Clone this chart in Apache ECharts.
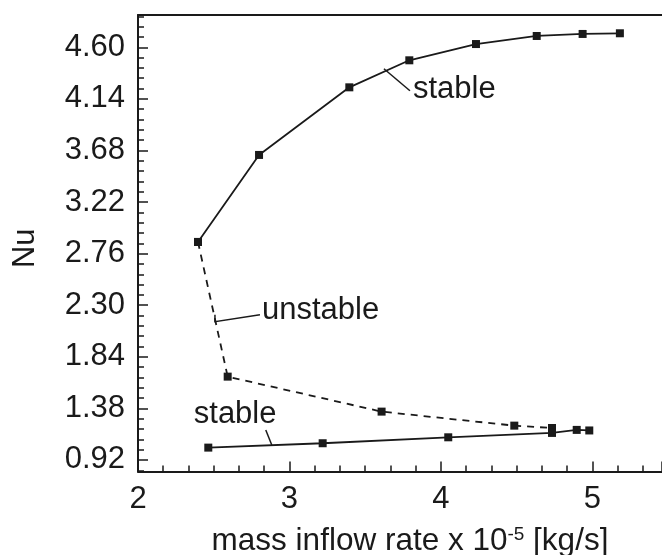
<!DOCTYPE html>
<html>
<head>
<meta charset="utf-8">
<script src="https://cdn.jsdelivr.net/npm/echarts@6/dist/echarts.min.js"></script>
<style>
html,body{margin:0;padding:0;background:#fff;}
#c{width:662px;height:555px;}
</style>
</head>
<body>
<div id="c"></div>
<script>
// ---- data ----
const upperStableX = [2.396, 2.799, 3.395, 3.791, 4.231, 4.632, 4.935, 5.181];
const upperStableY = [2.864, 3.640, 4.243, 4.484, 4.629, 4.701, 4.719, 4.725];
const unstableX = [2.396, 2.592, 3.608, 4.484, 4.733];
const unstableY = [2.864, 1.663, 1.351, 1.226, 1.205];
const lowerStableX = [2.464, 3.219, 4.048, 4.733, 4.896, 4.979];
const lowerStableY = [1.030, 1.069, 1.122, 1.161, 1.188, 1.183];
const yTickLabels = [0.92, 1.38, 1.84, 2.30, 2.76, 3.22, 3.68, 4.14, 4.60];
const xTickLabels = [2, 3, 4, 5];
const annotations = [
  {text: 'stable', at: [3.630, 4.382]},
  {text: 'unstable', at: [2.508, 2.153]},
  {text: 'stable', at: [2.883, 1.054]}
];

const FONT = 'Liberation Sans, Arial, sans-serif';
const INK = '#1a1a1a';
const X_MIN = 2, X_MAX = 5.459, Y_MIN = 0.817, Y_MAX = 4.888;

function zip(xs, ys){ return xs.map((x,i)=>[x, ys[i]]); }
// minor ticks: 5 subdivisions between labelled ticks
const yMinor = [];
const step = (yTickLabels[1]-yTickLabels[0])/5;
for (let v = yTickLabels[0]-step; v <= Y_MAX; v += step) { if (v >= Y_MIN) yMinor.push(+v.toFixed(4)); }

const chart = echarts.init(document.getElementById('c'), null, {renderer:'canvas'});
const lineBase = {type:'line', symbol:'rect', symbolSize:8, showSymbol:true, animation:false,
  itemStyle:{color:INK}, z:3};

chart.setOption({
  backgroundColor:'#fff',
  animation:false,
  grid:{left:138, top:15, right:0, bottom:83.5, containLabel:false, outerBoundsMode:'none'},
  xAxis:[{
    type:'value', min:X_MIN, max:X_MAX, interval:1, position:'bottom',
    axisLine:{show:true, onZero:false, lineStyle:{color:INK, width:2}},
    axisTick:{show:true, inside:true, length:10, lineStyle:{color:INK, width:1.5}},
    minorTick:{show:true, splitNumber:6, length:6, lineStyle:{color:INK, width:1.5}},
    splitLine:{show:false},
    axisLabel:{show:true, margin:12, color:INK, fontFamily:FONT, fontSize:31,
      customValues: xTickLabels, formatter:v=>String(v)},
    name:'mass inflow rate x 10{sup|-5} [kg/s]',
    nameLocation:'middle', nameGap:54,
    nameTextStyle:{color:INK, fontFamily:FONT, fontSize:31.5, padding:[0,0,0,20],
      rich:{sup:{fontSize:19, fontFamily:FONT, color:INK, verticalAlign:'top', padding:[0,0,12,0]}}}
  },{
    type:'value', min:X_MIN, max:X_MAX, position:'top',
    axisLine:{show:true, onZero:false, lineStyle:{color:INK, width:2}},
    axisTick:{show:false}, axisLabel:{show:false}, splitLine:{show:false}
  }],
  yAxis:[{
    type:'value', min:Y_MIN, max:Y_MAX, position:'left',
    axisLine:{show:true, onZero:false, lineStyle:{color:INK, width:2}},
    axisTick:{show:true, inside:true, length:10, customValues: yTickLabels, lineStyle:{color:INK, width:1.5}},
    splitLine:{show:false},
    axisLabel:{show:true, margin:13, color:INK, fontFamily:FONT, fontSize:31,
      customValues: yTickLabels, formatter:v=>v.toFixed(2)},
    name:'Nu', nameLocation:'middle', nameGap:97,
    nameTextStyle:{color:INK, fontFamily:FONT, fontSize:31, padding:[0,10,0,0]}
  },{
    type:'value', min:Y_MIN, max:Y_MAX, position:'left',
    axisLine:{show:true, onZero:false, lineStyle:{color:'rgba(0,0,0,0)', width:0}}, splitLine:{show:false},
    axisLabel:{show:false, customValues: yMinor},
    axisTick:{show:true, inside:true, length:6, customValues: yMinor, lineStyle:{color:INK, width:1.5}}
  }],
  series:[
    Object.assign({}, lineBase, {name:'upper stable', data: zip(upperStableX, upperStableY),
      lineStyle:{color:INK, width:1.8, type:'solid'}}),
    Object.assign({}, lineBase, {name:'unstable', data: zip(unstableX, unstableY),
      lineStyle:{color:INK, width:1.8, type:[7,6]}}),
    Object.assign({}, lineBase, {name:'lower stable', data: zip(lowerStableX, lowerStableY),
      lineStyle:{color:INK, width:1.8, type:'solid'}})
  ]
});

// annotations anchored at data points, leader lines drawn from there
function px(pt){ return chart.convertToPixel({gridIndex:0}, pt); }
const a1 = px(annotations[0].at), a2 = px(annotations[1].at), a3 = px(annotations[2].at);
const txt = (x, y, s) => ({type:'text', x:x, y:y, z:10,
  style:{text:s, fill:INK, font:'31px ' + FONT, textAlign:'left', textVerticalAlign:'middle'}});
const ln = (pts) => ({type:'polyline', z:10, shape:{points:pts}, style:{stroke:INK, lineWidth:1.5, fill:null}});
chart.setOption({graphic:[
  ln([[a1[0]-1, a1[1]-3], [a1[0]+25, a1[1]+19]]),
  txt(a1[0]+28, a1[1]+18, annotations[0].text),
  ln([[a2[0], a2[1]-7], [a2[0], a2[1]], [a2[0]+45, a2[1]-7]]),
  txt(a2[0]+47, a2[1]-11, annotations[1].text),
  ln([[a3[0], a3[1]], [a3[0]-6, a3[1]-15]]),
  txt(a3[0]-78, a3[1]-30, annotations[2].text)
]});
</script>
</body>
</html>
